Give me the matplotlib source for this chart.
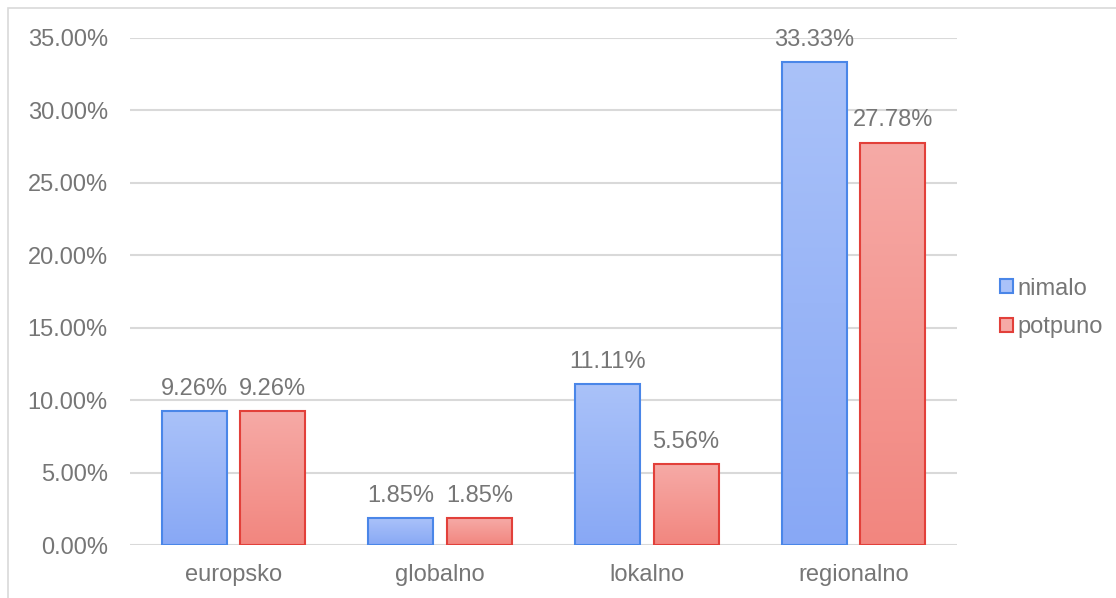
import numpy as np
import matplotlib
matplotlib.use("Agg")
import matplotlib.pyplot as plt
from matplotlib.patches import Rectangle
from matplotlib.colors import to_rgb

plt.rcParams['font.family'] = ['Liberation Sans', 'DejaVu Sans']

categories = ["europsko", "globalno", "lokalno", "regionalno"]
series_names = ["nimalo", "potpuno"]
nimalo = [9.26, 1.85, 11.11, 33.33]
potpuno = [9.26, 1.85, 5.56, 27.78]
y_ticks = [0, 5, 10, 15, 20, 25, 30, 35]

text_col = "#767676"
grid_col = "#d9d9d9"
# (top colour, bottom colour, edge colour)
styles = [("#aac2f9", "#88a8f5", "#4a86e8"),
          ("#f6aaa6", "#f2867f", "#e2403a")]


def gradient_bars(ax, bars, top, bottom):
    t = np.linspace(0, 1, 128)[:, None, None]
    grad = (1 - t) * np.array(to_rgb(top)) + t * np.array(to_rgb(bottom))
    for b in bars:
        x0, y0 = b.get_x(), b.get_y()
        w, h = b.get_width(), b.get_height()
        im = ax.imshow(grad, extent=(x0, x0 + w, y0, y0 + h), aspect='auto',
                       interpolation='bilinear', zorder=2, origin='upper')
        im.set_clip_path(b)
        b.set_facecolor('none')


fig = plt.figure(figsize=(11.16, 5.98), dpi=100)
ax = fig.add_axes([0.1165, 0.0886, 0.741, 0.848])

x = np.arange(len(categories))
width = 0.314
offset = 0.19
legend_handles = []
for i, (vals, (top, bottom, edge)) in enumerate(zip([nimalo, potpuno], styles)):
    pos = x + (offset if i else -offset)
    bars = ax.bar(pos, vals, width, edgecolor=edge, linewidth=1.5, zorder=3)
    gradient_bars(ax, bars, top, bottom)
    ax.bar_label(bars, labels=[f"{v:.2f}%" for v in vals], padding=8,
                 fontsize=17, color=text_col)
    legend_handles.append(Rectangle((0, 0), 1, 1, facecolor=top, edgecolor=edge, linewidth=1.5))

ax.set_xlim(-0.5, len(categories) - 0.5)
ax.set_ylim(0, 35)
ax.set_yticks(y_ticks)
ax.set_yticklabels([f"{t:.2f}%" for t in y_ticks])
ax.set_xticks(x)
ax.set_xticklabels(categories)
ax.tick_params(axis='both', length=0, labelsize=17, labelcolor=text_col)
ax.tick_params(axis='y', pad=16)
ax.tick_params(axis='x', pad=14)
ax.yaxis.grid(True, color=grid_col, linewidth=1.5, zorder=0)
ax.set_axisbelow(True)
for s in ax.spines.values():
    s.set_visible(False)

fig.legend(legend_handles, series_names, loc='center left',
           bbox_to_anchor=(0.877, 0.485), frameon=False, fontsize=17,
           labelcolor=text_col, handlelength=0.55, handleheight=0.55,
           handletextpad=0.2, labelspacing=0.7)

# outer chart border
fig.patches.append(Rectangle((0.007, -0.01), 1.1, 0.997, transform=fig.transFigure,
                             fill=False, edgecolor=grid_col, linewidth=1.2))

fig.savefig("out.png", dpi=100)
